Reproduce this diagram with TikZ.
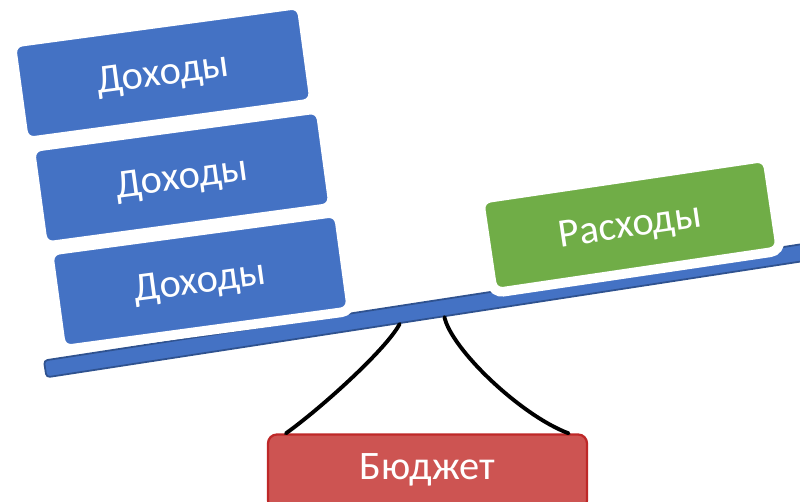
\documentclass[tikz,border=0pt]{standalone}
\usepackage{fontspec}
\setmainfont{Carlito}
\usetikzlibrary{calc}

\definecolor{incomeblue}{RGB}{68,114,196}
\definecolor{beamedge}{RGB}{47,82,143}
\definecolor{costgreen}{RGB}{112,173,71}
\definecolor{budgetred}{RGB}{205,84,82}
\definecolor{budgetedge}{RGB}{190,40,40}

\begin{document}
\begin{tikzpicture}[x=0.02cm, y=-0.02cm,
    plate/.style={draw=white, line width=5.5pt, rounded corners=6pt, text=white,
        minimum width=5.86cm, minimum height=2cm, font=\fontsize{23}{27}\selectfont,
        text height=1.5em, text depth=0.16em},
    income/.style={plate, fill=incomeblue, rotate=7.7},
    cost/.style={plate, fill=costgreen, rotate=8.4, minimum width=5.82cm, minimum height=1.9cm},
    beam/.style={fill=incomeblue, draw=beamedge, line width=1pt, rounded corners=2pt,
        rotate=8.73, minimum width=15.88cm, minimum height=0.34cm, inner sep=0pt},
    budget/.style={fill=budgetred, draw=budgetedge, line width=1.3pt, rounded corners=5pt,
        minimum width=6.38cm, minimum height=1.5cm, text=white, font=\fontsize{23}{27}\selectfont,
        text height=1em, text depth=0.16em},
    cable/.style={line width=2.2pt, line cap=round}]
    \clip (0,0) rectangle (800,502);

    \node[beam] (beam) at (437.5,308.7) {};
    \node[budget] (budget) at (427.5,472) {Бюджет};

    \draw[cable] ($(beam.south west)!0.45!(beam.south east)$)
        .. controls +(-13,25) and +(35,-25) .. ([xshift=0.38cm]budget.north west);
    \draw[cable] ($(beam.south west)!0.507!(beam.south east)$)
        .. controls +(7,32) and +(-48,-18) .. ([xshift=-0.39cm]budget.north east);

    \node[income] (inc1) at (162.75,73) {Доходы};
    \node[income] (inc2) at (181.75,177.5) {Доходы};
    \node[income] (inc3) at (200,281) {Доходы};

    \node[cost] (cost) at (630,225) {Расходы};
\end{tikzpicture}
\end{document}
